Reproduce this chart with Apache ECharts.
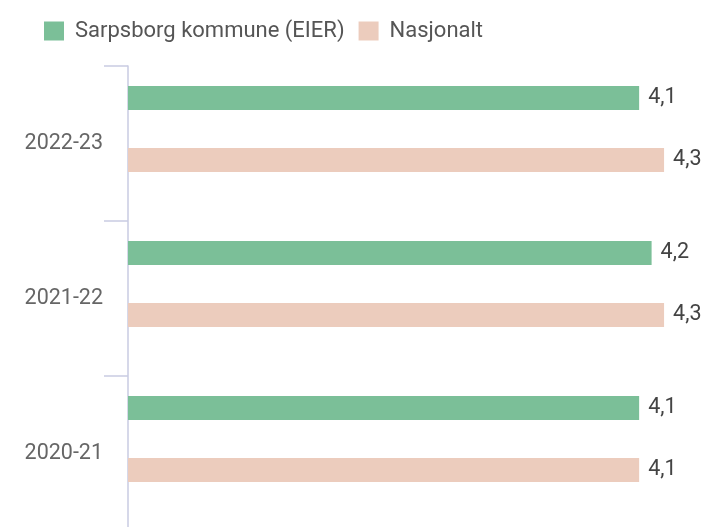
<!DOCTYPE html>
<html>
<head>
<meta charset="utf-8">
<script src="https://cdn.jsdelivr.net/npm/echarts@6/dist/echarts.min.js"></script>
<style>
  html, body { margin: 0; padding: 0; background: #fff; }
  #chart { width: 704px; height: 527px; }
</style>
</head>
<body>
<div id="chart"></div>
<script>
const categories = ['2022-23', '2021-22', '2020-21']
const sarpsborg = [4.1, 4.2, 4.1]
const nasjonalt = [4.3, 4.3, 4.1]

const seriesNames = ['Sarpsborg kommune (EIER)', 'Nasjonalt']
const colors = ['#7bbf98', '#ecccbd']
const axisColor = '#c9cbe2'

const fmt = p => String(p.value).replace('.', ',')

const chart = echarts.init(document.getElementById('chart'))

chart.setOption({
  animation: false,
  textStyle: { fontFamily: 'Roboto' },
  legend: {
    left: 39,
    top: 15,
    itemWidth: 20,
    itemHeight: 19,
    itemGap: 14,
    icon: 'rect',
    textStyle: { fontSize: 22, color: '#555', padding: [0, 0, 0, 6] },
    data: seriesNames
  },
  // grid 0 carries the visible axis, grid 1 the bars (drawn a bit higher, as in the source)
  grid: [
    { left: 128, right: 15, top: 66, height: 465, outerBoundsMode: 'none' },
    { left: 128, right: 15, top: 51.5, height: 465, outerBoundsMode: 'none' }
  ],
  xAxis: [
    { gridIndex: 0, type: 'value', min: 0, max: 4.5, show: false },
    { gridIndex: 1, type: 'value', min: 0, max: 4.5, show: false }
  ],
  yAxis: [
    {
      gridIndex: 0,
      type: 'category',
      inverse: true,
      data: categories,
      axisLine: { show: true, lineStyle: { color: axisColor, width: 1.5 } },
      axisTick: { show: true, length: 24, lineStyle: { color: axisColor, width: 1.5 } },
      axisLabel: { fontSize: 21.5, color: '#666', margin: 25 },
      splitLine: { show: false }
    },
    {
      gridIndex: 1,
      type: 'category',
      inverse: true,
      data: categories,
      show: false
    }
  ],
  series: [
    {
      name: seriesNames[0],
      type: 'bar',
      xAxisIndex: 1,
      yAxisIndex: 1,
      data: sarpsborg,
      barWidth: 24,
      barGap: '158%',
      itemStyle: { color: colors[0] },
      label: { show: true, position: 'right', distance: 9, fontSize: 21.5, color: '#444', formatter: fmt }
    },
    {
      name: seriesNames[1],
      type: 'bar',
      xAxisIndex: 1,
      yAxisIndex: 1,
      data: nasjonalt,
      barWidth: 24,
      barGap: '158%',
      itemStyle: { color: colors[1] },
      label: { show: true, position: 'right', distance: 9, fontSize: 21.5, color: '#444', formatter: fmt }
    }
  ]
})
</script>
</body>
</html>
